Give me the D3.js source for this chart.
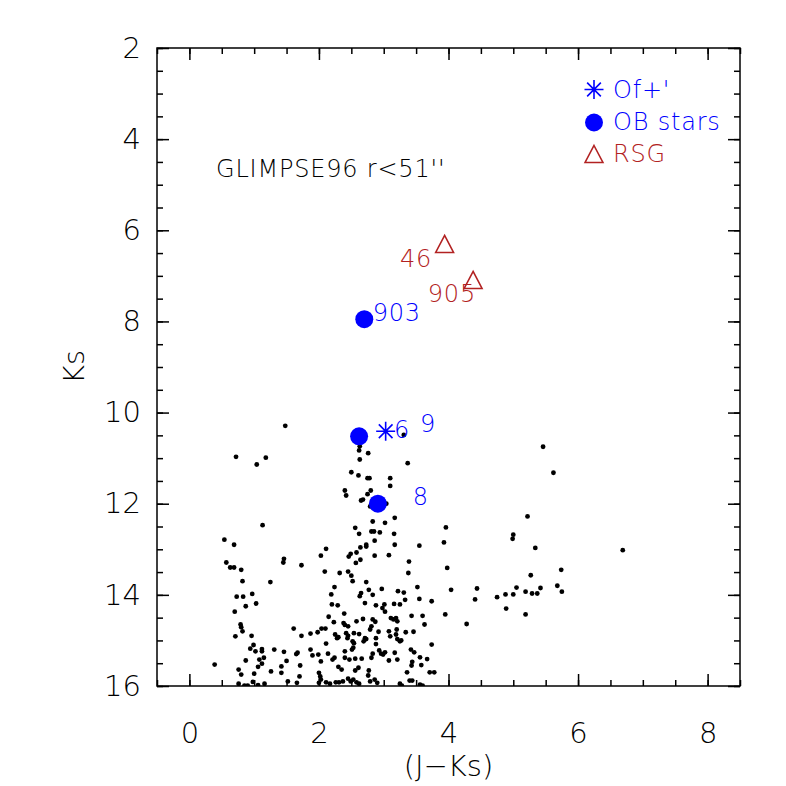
<html>
<head>
<meta charset="utf-8">
<title>GLIMPSE96 CMD</title>
<script src="https://d3js.org/d3.v7.min.js"></script>
<style>
  body { margin: 0; background: #fff; }
  text { font-family: "DejaVu Sans", sans-serif; font-weight: 200; }
  text.ann { letter-spacing: 0.8px; }
</style>
</head>
<body>
<script>
// field stars (J-Ks, Ks)
var jk = [1.48,0.72,1.04,1.18,3.31,2.63,2.62,2.76,2.63,3.37,2.50,2.61,2.75,2.78,3.10,5.46,5.62,
  1.13,0.54,0.69,0.57,0.63,0.69,0.80,0.82,1.25,1.46,1.45,1.73,
  3.10,2.40,2.42,2.80,2.75,2.68,2.65,3.04,2.79,2.83,3.02,3.17,2.56,2.62,2.81,2.85,2.94,3.16,3.96,3.93,
  2.86,2.73,2.73,3.17,3.55,2.11,2.64,2.58,2.49,2.46,2.03,2.86,3.08,2.64,2.57,3.39,3.98,2.09,2.32,2.45,
  2.50,3.38,2.52,2.73,
  5.22,5.00,4.99,5.34,6.69,5.74,5.27,4.04,4.44,3.52,3.31,3.55,3.33,3.74,4.41,4.75,4.88,5.00,5.05,5.19,
  5.29,5.37,5.42,5.68,5.75,4.89,5.19,3.95,4.28,3.43,3.60,3.63,3.34,3.46,3.27,3.74,3.42,3.47,3.56,3.67,
  3.44,3.43,3.58,3.36,3.71,3.78,3.40,3.44,3.56,
  0.73,0.83,0.97,1.03,0.87,0.70,0.79,0.80,0.82,0.71,0.96,0.99,0.94,1.02,1.12,1.12,1.31,1.46,1.65,1.67,
  1.61,1.73,0.87,1.08,1.15,1.12,1.06,1.50,1.42,1.71,0.39,0.76,0.80,1.00,1.26,1.42,1.70,0.76,0.98,1.06,
  1.16,1.52,1.66,
  2.24,2.19,2.65,2.63,2.77,2.83,2.97,3.22,2.20,2.29,2.71,2.88,3.01,2.98,3.02,3.16,3.25,2.15,2.39,2.23,
  2.38,2.40,2.45,2.58,2.68,2.83,2.87,2.81,3.11,3.15,3.21,3.19,2.04,2.10,1.98,1.87,2.25,2.30,2.28,2.42,
  2.45,2.44,2.54,2.62,2.79,2.71,2.69,2.73,2.92,2.88,3.08,3.20,3.10,3.19,3.21,3.25,2.11,2.52,2.54,2.51,
  2.53,2.88,1.87,1.90,1.99,2.14,2.24,2.21,2.40,2.40,2.47,2.56,2.66,2.81,2.83,2.93,2.96,2.99,3.02,3.17,
  3.08,3.21,2.03,2.30,2.35,2.56,2.61,2.77,2.76,2.00,2.02,2.03,2.00,2.11,2.17,2.26,2.31,2.37,2.45,2.49,
  2.53,2.58,2.62,2.79,2.86,2.90,3.25,0.85,0.90,3.28,3.60];
var ks = [10.29,10.97,11.14,10.99,10.49,10.74,10.83,10.89,11.03,11.11,11.31,11.38,11.44,11.44,11.44,10.75,11.32,
  12.47,12.79,12.90,13.29,13.40,13.40,13.45,13.70,13.72,13.21,13.29,13.35,
  11.61,11.71,11.82,11.71,11.79,11.91,11.93,12.00,12.06,12.39,12.42,12.31,12.53,12.66,12.61,12.61,12.63,12.66,12.52,12.85,
  12.81,12.90,12.94,12.90,12.92,12.99,12.96,13.07,13.10,13.16,13.14,13.14,13.13,13.23,13.30,13.27,13.41,13.49,13.52,13.49,
  13.58,13.52,13.70,13.72,
  12.28,12.68,12.77,12.97,13.02,13.45,13.57,13.89,13.86,13.83,13.95,14.09,14.11,14.14,14.10,14.05,13.99,13.99,13.84,13.93,
  13.97,13.97,13.85,13.80,13.93,14.30,14.43,14.43,14.64,14.46,14.46,14.65,14.82,14.81,15.00,15.09,15.20,15.26,15.37,15.41,
  15.47,15.55,15.54,15.70,15.70,15.70,15.88,15.88,15.97,
  14.04,14.04,13.98,14.19,14.25,14.37,14.65,14.71,14.80,14.91,14.90,15.10,15.18,15.24,15.19,15.24,15.20,15.25,15.30,15.27,
  14.74,14.90,15.44,15.42,15.38,15.51,15.58,15.45,15.57,15.55,15.53,15.64,15.75,15.73,15.68,15.71,15.79,15.95,15.91,15.98,
  15.95,15.90,15.93,
  13.83,13.99,13.96,14.03,13.89,14.00,13.87,13.92,14.21,14.23,14.18,14.23,14.21,14.29,14.37,14.20,14.21,14.48,14.41,14.60,
  14.62,14.66,14.69,14.58,14.53,14.54,14.59,14.69,14.51,14.54,14.58,14.51,14.74,14.74,14.82,14.85,14.87,14.93,14.95,14.84,
  14.90,14.95,14.84,14.86,14.76,14.95,15.02,14.97,14.81,14.95,14.80,14.76,14.91,14.87,14.97,15.02,15.07,15.02,15.06,15.20,
  15.16,15.08,15.20,15.33,15.31,15.29,15.38,15.42,15.24,15.38,15.42,15.40,15.40,15.38,15.29,15.22,15.29,15.31,15.26,15.27,
  15.44,15.42,15.46,15.58,15.64,15.66,15.60,15.66,15.77,15.71,15.79,15.86,15.93,15.92,15.95,15.92,15.92,15.90,15.84,15.90,
  15.86,15.92,15.95,15.90,15.86,15.93,15.95,15.99,15.99,15.99,15.99];

// special objects
var obJK = [2.70, 2.62, 2.91];
var obKs = [7.95, 10.52, 12.00];
var ofJK = [3.03];
var ofKs = [10.41];
var rsgJK = [3.94, 4.38];
var rsgKs = [6.30, 7.09];

// star ids: text, start (J-Ks), baseline Ks, colour group
var idText  = ["903", "6", "9", "8", "46", "905"];
var idJK    = [2.83, 3.16, 3.56, 3.45, 3.25, 3.68];
var idKs    = [7.98, 10.55, 10.42, 12.02, 6.80, 7.57];
var idGroup = ["b", "b", "b", "b", "r", "r"];

var xMajor = [0, 2, 4, 6, 8];
var yMajor = [2, 4, 6, 8, 10, 12, 14, 16];

var legendText = ["Of+'", "OB stars", "RSG"];

var width = 786, height = 786;
var blue = "#0000ff", red = "#b22222";

var x = d3.scaleLinear().domain([-0.5, 8.5]).range([157, 740]);
var y = d3.scaleLinear().domain([2, 16]).range([48, 686]);

var xMinor = d3.range(-0.5, 8.51, 0.5);
var yMinor = d3.range(2, 16.01, 0.5);

var svg = d3.select("body").append("svg")
  .attr("width", width)
  .attr("height", height);

svg.append("clipPath").attr("id", "clip")
  .append("rect")
  .attr("x", x.range()[0]).attr("y", y.range()[0])
  .attr("width", x.range()[1] - x.range()[0])
  .attr("height", y.range()[1] - y.range()[0]);

// axes: ticks on all four sides, labels on left and bottom
function styleAxis(g) {
  g.select(".domain").remove();
  g.selectAll("line").attr("stroke", "#000").attr("stroke-width", 1.5);
  g.selectAll("text").attr("fill", "#000").style("font-size", "29px");
}
var yb = y.range()[1], yt = y.range()[0], xl = x.range()[0], xr = x.range()[1];

svg.append("g").attr("transform", "translate(0," + yb + ")")
  .call(d3.axisBottom(x).tickValues(xMinor).tickSize(-6).tickFormat("")).call(styleAxis);
svg.append("g").attr("transform", "translate(0," + yb + ")")
  .call(d3.axisBottom(x).tickValues(xMajor).tickSize(-12).tickPadding(36).tickFormat(d3.format("d"))).call(styleAxis);
svg.append("g").attr("transform", "translate(0," + yt + ")")
  .call(d3.axisTop(x).tickValues(xMinor).tickSize(-6).tickFormat("")).call(styleAxis);
svg.append("g").attr("transform", "translate(0," + yt + ")")
  .call(d3.axisTop(x).tickValues(xMajor).tickSize(-12).tickFormat("")).call(styleAxis);

svg.append("g").attr("transform", "translate(" + xl + ",0)")
  .call(d3.axisLeft(y).tickValues(yMinor).tickSize(-6).tickFormat("")).call(styleAxis);
svg.append("g").attr("transform", "translate(" + xl + ",0)")
  .call(d3.axisLeft(y).tickValues(yMajor).tickSize(-12).tickPadding(16).tickFormat(d3.format("d"))).call(styleAxis);
svg.append("g").attr("transform", "translate(" + xr + ",0)")
  .call(d3.axisRight(y).tickValues(yMinor).tickSize(-6).tickFormat("")).call(styleAxis);
svg.append("g").attr("transform", "translate(" + xr + ",0)")
  .call(d3.axisRight(y).tickValues(yMajor).tickSize(-12).tickFormat("")).call(styleAxis);

svg.append("rect")
  .attr("x", xl).attr("y", yt).attr("width", xr - xl).attr("height", yb - yt)
  .attr("fill", "none").attr("stroke", "#000").attr("stroke-width", 1.5);

// axis titles
svg.append("text")
  .attr("x", (xl + xr) / 2).attr("y", 776)
  .attr("text-anchor", "middle").style("font-size", "29px")
  .text("(J\u2212Ks)");
svg.append("text")
  .attr("transform", "translate(84," + ((yt + yb) / 2) + ") rotate(-90)")
  .attr("text-anchor", "middle").style("font-size", "29px")
  .text("Ks");

var plot = svg.append("g").attr("clip-path", "url(#clip)");

// field stars
plot.selectAll("circle.field")
  .data(d3.range(jk.length))
  .enter().append("circle")
  .attr("class", "field")
  .attr("cx", function(i) { return x(jk[i]); })
  .attr("cy", function(i) { return y(ks[i]); })
  .attr("r", 2.4)
  .attr("fill", "#000");

function asterisk(s) {
  return "M0," + (-s) + "L0," + s +
    "M" + (-s) + ",0L" + s + ",0" +
    "M" + (-s * 0.72) + "," + (-s * 0.72) + "L" + (s * 0.72) + "," + (s * 0.72) +
    "M" + (-s * 0.72) + "," + (s * 0.72) + "L" + (s * 0.72) + "," + (-s * 0.72);
}
function triangle(s) {
  return "M0," + (-s) + "L" + (s * 1.05) + "," + s + "L" + (-s * 1.05) + "," + s + "Z";
}

// OB stars
plot.selectAll("circle.ob")
  .data(d3.range(obJK.length))
  .enter().append("circle")
  .attr("class", "ob")
  .attr("cx", function(i) { return x(obJK[i]); })
  .attr("cy", function(i) { return y(obKs[i]); })
  .attr("r", 9)
  .attr("fill", blue);

// Of+ star
plot.selectAll("path.of")
  .data(d3.range(ofJK.length))
  .enter().append("path")
  .attr("class", "of")
  .attr("transform", function(i) { return "translate(" + x(ofJK[i]) + "," + y(ofKs[i]) + ")"; })
  .attr("d", asterisk(9.5))
  .attr("stroke", blue).attr("stroke-width", 1.6).attr("fill", "none");

// RSGs
plot.selectAll("path.rsg")
  .data(d3.range(rsgJK.length))
  .enter().append("path")
  .attr("class", "rsg")
  .attr("transform", function(i) { return "translate(" + x(rsgJK[i]) + "," + y(rsgKs[i]) + ")"; })
  .attr("d", triangle(8.5))
  .attr("stroke", red).attr("stroke-width", 1.6).attr("fill", "none");

// star ids
svg.selectAll("text.id")
  .data(d3.range(idText.length))
  .enter().append("text")
  .attr("class", "id ann")
  .attr("x", function(i) { return x(idJK[i]); })
  .attr("y", function(i) { return y(idKs[i]); })
  .attr("fill", function(i) { return idGroup[i] == "b" ? blue : red; })
  .style("font-size", "24px")
  .text(function(i) { return idText[i]; });

// field label
svg.append("text")
  .attr("class", "ann")
  .attr("x", 216).attr("y", 177)
  .style("font-size", "24px")
  .text("GLIMPSE96 r<51''");

// legend
var leg = svg.append("g").attr("transform", "translate(594,0)");
leg.append("path").attr("transform", "translate(0,89.5)").attr("d", asterisk(9.5))
  .attr("stroke", blue).attr("stroke-width", 1.6).attr("fill", "none");
leg.append("circle").attr("cx", 0).attr("cy", 122.5).attr("r", 9).attr("fill", blue);
leg.append("path").attr("transform", "translate(0,154)").attr("d", triangle(8.5))
  .attr("stroke", red).attr("stroke-width", 1.6).attr("fill", "none");
var legY = [98, 130, 162];
var legCol = [blue, blue, red];
leg.selectAll("text.leg")
  .data(legendText)
  .enter().append("text")
  .attr("class", "leg ann")
  .attr("x", 19)
  .attr("y", function(d, i) { return legY[i]; })
  .attr("fill", function(d, i) { return legCol[i]; })
  .style("font-size", "24px")
  .text(function(d) { return d; });
</script>
</body>
</html>
